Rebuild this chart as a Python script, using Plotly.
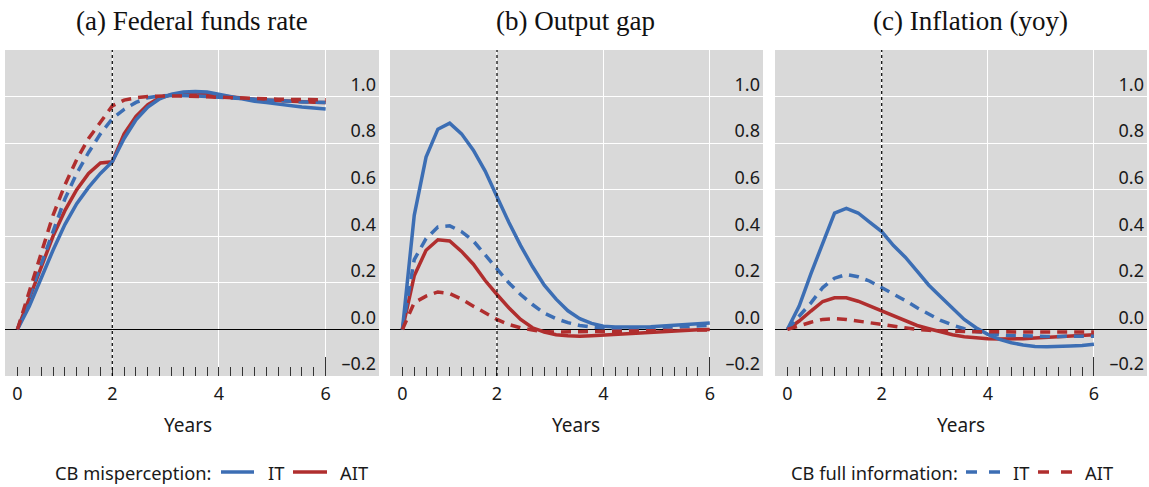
import plotly.graph_objects as go

# ---------------- data ----------------
periods = list(range(27))                     # quarterly steps of the simulation
x_tick_positions = [0, 8, 17, 26]
x_tick_labels = ["0", "2", "4", "6"]
major_tick_positions = [-1, 8, 17, 26]
y_tick_values = [-0.2, 0.0, 0.2, 0.4, 0.6, 0.8, 1.0]
y_tick_labels = ["\u20130.2", "0.0", "0.2", "0.4", "0.6", "0.8", "1.0"]
shock_end = 8
panel_titles = ["(a) Federal funds rate", "(b) Output gap", "(c) Inflation (yoy)"]
series_names = ["IT", "AIT"]
legend_titles = ["CB misperception:", "CB full information:"]

# (a) Federal funds rate
ffr_it_mis = [0, 0.10, 0.22, 0.34, 0.45, 0.54, 0.61, 0.67, 0.72, 0.82, 0.90, 0.955, 0.99,
              1.01, 1.02, 1.022, 1.02, 1.01, 1.00, 0.99, 0.98, 0.974, 0.967, 0.96, 0.955, 0.951, 0.947]
ffr_ait_mis = [0, 0.13, 0.27, 0.40, 0.51, 0.60, 0.67, 0.715, 0.72, 0.84, 0.915, 0.965, 0.995,
               1.008, 1.012, 1.012, 1.01, 1.004, 0.998, 0.993, 0.989, 0.985, 0.982, 0.98, 0.978, 0.976, 0.975]
ffr_it_full = [0, 0.14, 0.29, 0.43, 0.56, 0.67, 0.76, 0.84, 0.905, 0.945, 0.975, 0.995, 1.003,
               1.005, 1.005, 1.003, 1.0, 0.997, 0.993, 0.99, 0.987, 0.984, 0.981, 0.979, 0.977, 0.976, 0.975]
ffr_ait_full = [0, 0.16, 0.33, 0.49, 0.62, 0.73, 0.82, 0.89, 0.96, 0.985, 0.995, 1.0, 1.003,
                1.003, 1.002, 1.0, 0.998, 0.996, 0.994, 0.992, 0.991, 0.99, 0.989, 0.988, 0.987, 0.986, 0.986]

# (b) Output gap
gap_it_mis = [0, 0.49, 0.74, 0.86, 0.886, 0.84, 0.77, 0.68, 0.57, 0.46, 0.36, 0.27, 0.19,
              0.13, 0.08, 0.046, 0.026, 0.014, 0.01, 0.009, 0.01, 0.011, 0.014, 0.017, 0.02, 0.024, 0.028]
gap_ait_mis = [0, 0.23, 0.34, 0.385, 0.38, 0.335, 0.28, 0.21, 0.15, 0.093, 0.043, 0.007, -0.011,
               -0.023, -0.027, -0.029, -0.027, -0.024, -0.02, -0.016, -0.013, -0.01, -0.007, -0.004, -0.003, -0.001, 0.0]
gap_it_full = [0, 0.30, 0.39, 0.44, 0.445, 0.42, 0.38, 0.32, 0.26, 0.20, 0.15, 0.107, 0.07,
               0.046, 0.029, 0.017, 0.01, 0.006, 0.004, 0.004, 0.005, 0.007, 0.009, 0.011, 0.013, 0.015, 0.017]
gap_ait_full = [0, 0.115, 0.143, 0.161, 0.154, 0.13, 0.10, 0.07, 0.043, 0.021, 0.007, -0.003, -0.009,
                -0.011, -0.011, -0.011, -0.01, -0.009, -0.008, -0.007, -0.006, -0.005, -0.004, -0.003, -0.003, -0.002, -0.002]

# (c) Inflation (yoy)
inf_it_mis = [0, 0.10, 0.24, 0.37, 0.50, 0.52, 0.50, 0.46, 0.42, 0.36, 0.31, 0.25, 0.19,
              0.14, 0.089, 0.043, 0.007, -0.021, -0.043, -0.057, -0.067, -0.073, -0.074, -0.074, -0.071, -0.069, -0.064]
inf_ait_mis = [0, 0.036, 0.079, 0.12, 0.136, 0.136, 0.121, 0.10, 0.079, 0.057, 0.036, 0.017, 0.003,
               -0.011, -0.023, -0.031, -0.037, -0.04, -0.041, -0.041, -0.04, -0.037, -0.034, -0.031, -0.029, -0.026, -0.023]
inf_it_full = [0, 0.057, 0.114, 0.18, 0.22, 0.236, 0.226, 0.207, 0.18, 0.154, 0.124, 0.093, 0.064,
               0.039, 0.019, 0.003, -0.009, -0.017, -0.023, -0.026, -0.028, -0.029, -0.03, -0.03, -0.03, -0.029, -0.029]
inf_ait_full = [0, 0.017, 0.031, 0.043, 0.046, 0.043, 0.036, 0.029, 0.021, 0.013, 0.006, 0.0, -0.004,
                -0.006, -0.008, -0.009, -0.01, -0.01, -0.011, -0.011, -0.011, -0.011, -0.011, -0.011, -0.011, -0.011, -0.011]

panels = [
    (ffr_it_mis, ffr_ait_mis, ffr_it_full, ffr_ait_full),
    (gap_it_mis, gap_ait_mis, gap_it_full, gap_ait_full),
    (inf_it_mis, inf_ait_mis, inf_it_full, inf_ait_full),
]

# ---------------- style ----------------
W, H = 1149, 487
BLUE = "#3C6EB4"
RED = "#B02E2E"
BG = "#D9D9D9"
SANS = "Noto Sans"
SERIF = "Liberation Serif"
DASH = "10px,7px"
LW = 3.5
TXT = "#1a1a1a"


def px(x):
    return x / W


def py(y):
    return 1 - y / H


panel_px = [(5, 379), (390, 763), (775, 1147)]
title_centers = [192, 575, 970]
years_centers = [188, 576, 961]
plot_top, plot_bottom = 50, 376

fig = go.Figure()

for k, (it_mis, ait_mis, it_full, ait_full) in enumerate(panels):
    n = k + 1
    xa = "x" if n == 1 else f"x{n}"
    ya = "y" if n == 1 else f"y{n}"
    for vals, color, dash in [(ait_mis, RED, "solid"), (it_mis, BLUE, "solid"),
                              (it_full, BLUE, DASH), (ait_full, RED, DASH)]:
        fig.add_trace(go.Scatter(x=periods, y=vals, mode="lines", xaxis=xa, yaxis=ya,
                                 line=dict(color=color, width=LW, dash=dash),
                                 showlegend=False, hoverinfo="skip"))

    l, r = panel_px[k]
    dom_x = [px(l), px(r)]
    dom_y = [py(plot_bottom), py(plot_top)]
    xrange = [-1.05, 30.5]
    fig.layout[f"xaxis{'' if n == 1 else n}"] = dict(
        domain=dom_x, range=xrange, anchor=ya,
        tickmode="array", tickvals=major_tick_positions, ticktext=[""] * len(major_tick_positions),
        ticks="inside", ticklen=19, tickwidth=1, tickcolor="#333333",
        showgrid=True, gridcolor="white", gridwidth=1.3,
        zeroline=False, showline=False,
        minor=dict(tickmode="array", tickvals=periods[:-1] + [-1], ticks="inside", ticklen=9,
                   tickwidth=1, tickcolor="#333333", showgrid=False),
        fixedrange=True,
    )
    fig.layout[f"xaxis{n + 3}"] = dict(
        overlaying=xa, anchor=ya, range=xrange, side="bottom",
        tickmode="array", tickvals=x_tick_positions, ticktext=x_tick_labels,
        ticks="", showgrid=False, zeroline=False, showline=False,
        tickfont=dict(family=SANS, size=18, color=TXT), ticklabelstandoff=5,
    )
    fig.layout[f"yaxis{'' if n == 1 else n}"] = dict(
        domain=dom_y, range=[-0.2, 1.2], anchor=xa, side="right",
        tickmode="array", tickvals=y_tick_values, ticktext=y_tick_labels,
        ticklabelposition="inside", ticklabelshift=-12, ticks="",
        tickfont=dict(family=SANS, size=18, color=TXT),
        showgrid=True, gridcolor="white", gridwidth=1.3,
        zeroline=True, zerolinecolor="black", zerolinewidth=1.2,
        showline=False, fixedrange=True,
    )
    # dotted line marking the end of the misperception period
    fig.add_shape(type="line", xref=xa, yref=f"{ya} domain", x0=shock_end, x1=shock_end, y0=0, y1=1,
                  line=dict(color="black", width=1.2, dash="dot"), layer="above")
    fig.add_annotation(text=panel_titles[k], xref="paper", yref="paper", x=px(title_centers[k]), y=py(21),
                       xanchor="center", yanchor="middle", showarrow=False,
                       font=dict(family=SERIF, size=27, color="#111111"))
    fig.add_annotation(text="Years", xref="paper", yref="paper", x=px(years_centers[k]), y=py(425),
                       xanchor="center", yanchor="middle", showarrow=False,
                       font=dict(family=SANS, size=19, color=TXT))

# dummy traces so overlay axes are drawn
for n in range(4, 7):
    fig.add_trace(go.Scatter(x=[None], y=[None], xaxis=f"x{n}", yaxis="y" if n == 4 else f"y{n - 3}",
                             showlegend=False, hoverinfo="skip"))

# ---------------- legend (drawn manually) ----------------
LEG_Y = 472
leg_font = dict(family=SANS, size=18.3, color=TXT)
legend_items = [
    (53, legend_titles[0], [(221, 254, BLUE, "solid", 266, series_names[0]),
                            (293, 327, RED, "solid", 338, series_names[1])]),
    (789, legend_titles[1], [(966, 1001, BLUE, "11px,12px", 1011, series_names[0]),
                             (1038, 1073, RED, "11px,12px", 1083, series_names[1])]),
]
for tx, title, entries in legend_items:
    fig.add_annotation(text=title, xref="paper", yref="paper", x=px(tx), y=py(LEG_Y),
                       xanchor="left", yanchor="middle", showarrow=False, font=leg_font)
    for x0, x1, color, dash, lx, label in entries:
        fig.add_shape(type="line", xref="paper", yref="paper", x0=px(x0), x1=px(x1),
                      y0=py(LEG_Y), y1=py(LEG_Y), line=dict(color=color, width=LW, dash=dash))
        fig.add_annotation(text=label, xref="paper", yref="paper", x=px(lx), y=py(LEG_Y),
                           xanchor="left", yanchor="middle", showarrow=False, font=leg_font)

fig.update_layout(
    width=W, height=H, margin=dict(l=0, r=0, t=0, b=0),
    paper_bgcolor="white", plot_bgcolor=BG, showlegend=False,
)

fig.write_html("out.html")
